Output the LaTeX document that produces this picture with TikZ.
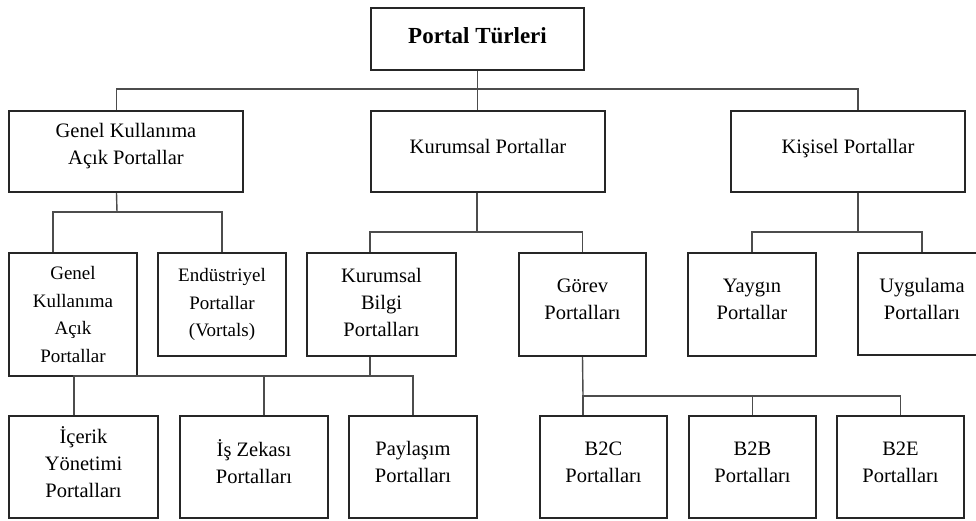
\documentclass[tikz,border=0pt]{standalone}
\usepackage{fontspec}
\setmainfont{Liberation Serif}
\begin{document}
\begin{tikzpicture}[x=1pt, y=-1pt,
		box/.style={draw=black!85, line width=2.2pt, rectangle, inner sep=0pt},
		lbl/.style={align=center, font=\fontsize{20.5}{27}\selectfont, yshift=5pt},
		lbls/.style={align=center, font=\fontsize{19}{27.5}\selectfont},
		link/.style={draw=black!70, line width=1.4pt}]
		\useasboundingbox (0,0) rectangle (976,520);
		\clip (0,0) rectangle (976,520);
		% ust seviye
		\node[box, minimum width=213, minimum height=62, label={[align=center, font=\fontsize{23}{26}\selectfont\bfseries, yshift=3pt]center:Portal Türleri}] (top) at (477.5,39) {};
		\node[box, minimum width=234, minimum height=81, label={[lbl]center:{Genel Kullanıma\\Açık Portallar}}] (genel) at (126,151.5) {};
		\node[box, minimum width=234, minimum height=81, label={[lbl]center:Kurumsal Portallar}] (kurumsal) at (488,151.5) {};
		\node[box, minimum width=234, minimum height=81, label={[lbl, text depth=0pt]center:Kişisel Portallar}] (kisisel) at (848,151.5) {};
		% ikinci seviye
		\node[box, minimum width=128, minimum height=123, label={[lbls]center:{Genel\\Kullanıma\\Açık\\Portallar}}] (genelacik) at (73,314.5) {};
		\node[box, minimum width=128, minimum height=103, label={[lbls]center:{Endüstriyel\\Portallar\\(Vortals)}}] (endustri) at (222,304.5) {};
		\node[box, minimum width=149, minimum height=103, label={[lbl, yshift=-3pt]center:{Kurumsal\\Bilgi\\Portalları}}] (kbilgi) at (381.5,304.5) {};
		\node[box, minimum width=127, minimum height=103, label={[lbl]center:{Görev\\Portalları}}] (gorev) at (582.5,304.5) {};
		\node[box, minimum width=128, minimum height=103, label={[lbl]center:{Yaygın\\Portallar}}] (yaygin) at (752,304.5) {};
		\node[box, minimum width=128, minimum height=102, label={[lbl]center:{Uygulama\\Portalları}}] (uygulama) at (922,304) {};
		% ucuncu seviye
		\node[box, minimum width=149, minimum height=102, label={[lbl]center:{İçerik\\Yönetimi\\Portalları}}] (icerik) at (83.5,467) {};
		\node[box, minimum width=148, minimum height=102, label={[lbl]center:{İş Zekası\\Portalları}}] (iszeka) at (254,467) {};
		\node[box, minimum width=128, minimum height=102, label={[lbl]center:{Paylaşım\\Portalları}}] (paylasim) at (413,467) {};
		\node[box, minimum width=127, minimum height=102, label={[lbl]center:{B2C\\Portalları}}] (b2c) at (603.5,467) {};
		\node[box, minimum width=127, minimum height=102, label={[lbl]center:{B2B\\Portalları}}] (b2b) at (752.5,467) {};
		\node[box, minimum width=127, minimum height=102, label={[lbl]center:{B2E\\Portalları}}] (b2e) at (900.5,467) {};
		% baglantilar
		\coordinate (b1) at (477,89);
		\coordinate (b2) at (117,212);
		\coordinate (b3) at (477,232);
		\coordinate (b4) at (858,232);
		\coordinate (b5) at (370,376);
		\coordinate (b6) at (583,396);
		\draw[link] (top.south) -- (top.south |- kurumsal.north);
		\draw[link] ([xshift=-9.5pt]genel.north) |- (b1) -| ([xshift=10pt]kisisel.north);
		\draw[link] ([xshift=-9.5pt]genel.south) -- (b2);
		\draw[link] ([xshift=-20pt]genelacik.north) |- (b2) -| (endustri.north);
		\draw[link] ([xshift=-11pt]kurumsal.south) -- (b3);
		\draw[link] ([xshift=-11.5pt]kbilgi.north) |- (b3) -| (gorev.north);
		\draw[link] ([xshift=10pt]kisisel.south) -- (b4);
		\draw[link] (yaygin.north) |- (b4) -| (uygulama.north);
		\draw[link] ([xshift=-11.5pt]kbilgi.south) -- (b5);
		\draw[link] ([xshift=-9.5pt]icerik.north) |- (b5) -| (paylasim.north);
		\draw[link] ([xshift=10pt]iszeka.north) -- ([xshift=10pt]iszeka.north |- b5);
		\draw[link] (gorev.south) -- (b6);
		\draw[link] ([xshift=-20.5pt]b2c.north) |- (b6) -| (b2e.north);
		\draw[link] (b2b.north) -- (b2b.north |- b6);
	\end{tikzpicture}
\end{document}
